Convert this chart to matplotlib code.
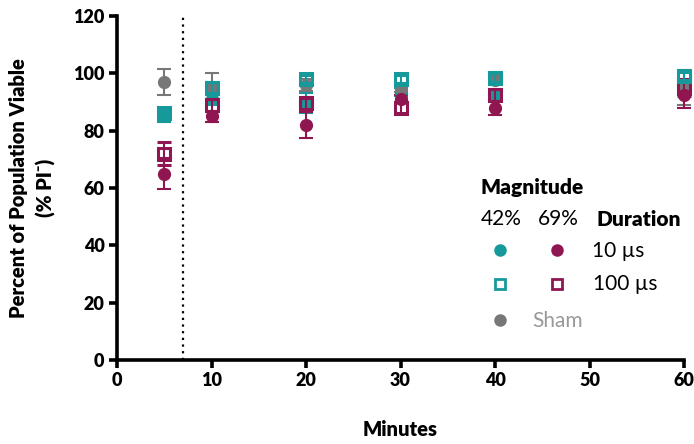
import numpy as np
import matplotlib.pyplot as plt

plt.rcParams['font.family'] = ['Lato', 'DejaVu Sans']

teal = '#16999b'
plum = '#8f1650'
grey = '#777777'

minutes = [5, 10, 20, 30, 40, 60]

# mean viability and error (SD) per group
sham = [97, 95, 96, 95, 97.5, 95]
sham_err = [4.5, 5, 2, 1.5, 1.5, 6]
m42_10 = [85, 91, 89.5, 93.5, 92, 94]
m42_10_err = [2, 2, 3.5, 1.5, 1.5, 1.5]
m69_10 = [65, 85, 82, 91, 88, 92.5]
m69_10_err = [5.5, 2, 4.5, 1.5, 2.5, 4.5]
m42_100 = [86, 95, 98, 98, 98.5, 99]
m42_100_err = [2, 2, 1.5, 1.5, 1.5, 1.5]
m69_100 = [72, 89, 89.5, 88, 92.5, 95]
m69_100_err = [4, 2, 2, 2, 2, 3]

fig = plt.figure(figsize=(6.94, 4.44), dpi=100)
ax = fig.add_axes([0.1686, 0.1892, 0.8170, 0.7748])

ax.axvline(7, color='black', ls=(0, (1, 2)), lw=1.6, zorder=1)

eb = dict(capsize=5, elinewidth=1.5, capthick=1.5, ls='none', clip_on=False)
ax.errorbar(minutes, m42_10, yerr=m42_10_err, fmt='o', ms=8.5, color=teal, zorder=3, **eb)
ax.errorbar(minutes, sham, yerr=sham_err, fmt='o', ms=8.5, color=grey, zorder=3, **eb)
ax.errorbar(minutes, m69_10, yerr=m69_10_err, fmt='o', ms=8.5, color=plum, zorder=3, **eb)
ax.errorbar(minutes, m69_100, yerr=m69_100_err, fmt='s', ms=9, mfc='none', mew=2.2,
            color=plum, zorder=4, **eb)
ax.errorbar(minutes, m42_100, yerr=m42_100_err, fmt='s', ms=9, mfc='none', mew=2.2,
            color=teal, zorder=4, **eb)

ax.set_xlim(0, 60)
ax.set_ylim(0, 120)
ax.set_xticks(range(0, 61, 10))
ax.set_yticks(range(0, 121, 20))
for s in ['top', 'right']:
    ax.spines[s].set_visible(False)
for s in ['left', 'bottom']:
    ax.spines[s].set_linewidth(2.6)
ax.tick_params(width=2.6, length=6, labelsize=13, pad=3)
for lab in ax.get_xticklabels() + ax.get_yticklabels():
    lab.set_fontweight('heavy')

ax.set_xlabel('Minutes', fontsize=14.5, fontweight='heavy', labelpad=22)
ax.set_ylabel('Percent of Population Viable\n(% PI\u207b)', fontsize=14.5,
              fontweight='heavy', labelpad=12, linespacing=1.5)

# hand-built legend
def fx(px):
    return px / 694
def fy(py):
    return 1 - py / 444

fs = 15
fig.text(fx(481), fy(187), 'Magnitude', fontsize=fs, fontweight='heavy', va='center')
fig.text(fx(481), fy(219), '42%', fontsize=fs, va='center')
fig.text(fx(538), fy(219), '69%', fontsize=fs, va='center')
fig.text(fx(596), fy(219), 'Duration', fontsize=fs, fontweight='heavy', va='center')
fig.text(fx(592), fy(251), '10 µs', fontsize=fs, va='center')
fig.text(fx(593), fy(284), '100 µs', fontsize=fs, va='center')
fig.text(fx(532), fy(321), 'Sham', fontsize=fs, va='center', color='#999999')

leg_marks = [
    (500, 250, 'o', teal, teal),
    (557, 250, 'o', plum, plum),
    (500, 284, 's', 'none', teal),
    (557, 284, 's', 'none', plum),
    (500, 320, 'o', grey, grey),
]
for px, py, mk, fc, ec in leg_marks:
    fig.add_artist(plt.Line2D([fx(px)], [fy(py)], marker=mk, ms=7, mfc=fc, mec=ec,
                              mew=2, ls='none', transform=fig.transFigure))

fig.savefig('out.png', dpi=100)
